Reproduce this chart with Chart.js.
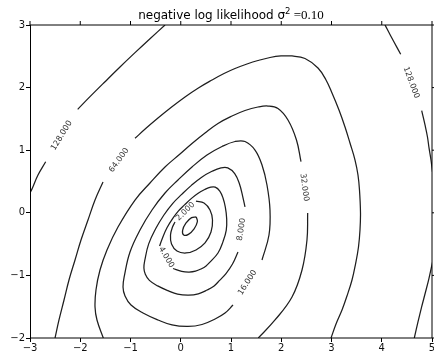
<!DOCTYPE html>
<html>
<head>
<meta charset="utf-8">
<script src="https://cdn.jsdelivr.net/npm/chart.js@4/dist/chart.umd.min.js"></script>
<style>
  html, body { margin: 0; padding: 0; background: #fff; }
  canvas { display: block; }
</style>
</head>
<body>
<canvas id="chart" width="434" height="353"></canvas>
<script>
// Axis ranges and tick values
const xTicks = [-3, -2, -1, 0, 1, 2, 3, 4, 5];
const yTicks = [-2, -1, 0, 1, 2, 3];

// Contour levels of the negative log likelihood
const levels = [1, 2, 4, 8, 16, 32, 64, 128];

// Contour paths as [x, y] pairs; each path stops where a level label sits
const c1 = [[0.309,-0.067],[0.331,-0.142],[0.266,-0.257],[0.152,-0.345],[0.059,-0.355],[0.037,-0.280],[0.102,-0.165],[0.216,-0.077],[0.309,-0.067]];
const c2 = [[0.303,0.188],[0.463,0.157],[0.582,0.045],[0.632,-0.115],[0.602,-0.307],[0.483,-0.482],[0.303,-0.594],[0.104,-0.642],[-0.075,-0.610],[-0.184,-0.498],[-0.204,-0.355],[-0.164,-0.227],[-0.114,-0.147]];
const c4 = [[-0.154,-0.890],[0.019,-0.936],[0.166,-0.947],[0.294,-0.933],[0.413,-0.893],[0.504,-0.848],[0.576,-0.791],[0.741,-0.642],[0.841,-0.460],[0.906,-0.276],[0.914,-0.094],[0.887,0.089],[0.841,0.236],[0.777,0.347],[0.686,0.409],[0.596,0.409],[0.477,0.372],[0.339,0.310],[0.202,0.222],[0.075,0.126],[-0.045,0.030],[-0.162,-0.094],[-0.274,-0.240],[-0.363,-0.401],[-0.421,-0.530]];
const c8 = [[1.139,-0.626],[1.030,-0.818],[0.900,-0.970],[0.773,-1.080],[0.664,-1.168],[0.526,-1.233],[0.349,-1.294],[0.156,-1.315],[-0.063,-1.299],[-0.254,-1.244],[-0.459,-1.168],[-0.624,-1.080],[-0.705,-0.981],[-0.733,-0.882],[-0.713,-0.749],[-0.638,-0.497],[-0.500,-0.256],[-0.335,-0.035],[-0.158,0.152],[0.019,0.294],[0.212,0.438],[0.417,0.569],[0.622,0.663],[0.801,0.717],[0.936,0.717],[1.074,0.625],[1.169,0.460],[1.239,0.240],[1.279,0.093]];
const c16 = [[1.040,-1.473],[0.881,-1.601],[0.682,-1.696],[0.423,-1.784],[0.144,-1.816],[-0.174,-1.792],[-0.453,-1.712],[-0.751,-1.601],[-0.990,-1.473],[-1.109,-1.329],[-1.149,-1.185],[-1.119,-0.994],[-1.010,-0.626],[-0.811,-0.275],[-0.572,0.045],[-0.313,0.316],[-0.055,0.524],[0.224,0.732],[0.522,0.923],[0.821,1.059],[1.080,1.139],[1.279,1.139],[1.478,1.003],[1.617,0.764],[1.716,0.444],[1.776,0.045],[1.756,-0.355],[1.617,-0.754]];
const c32a = [[-1.541,-2.0],[-1.667,-1.712],[-1.706,-1.505],[-1.687,-1.233],[-1.607,-0.914],[-1.468,-0.594],[-1.249,-0.227],[-0.910,0.204],[-0.612,0.476],[-0.313,0.732],[-0.015,0.939],[0.224,1.107],[0.483,1.275],[0.741,1.427],[1.020,1.546],[1.279,1.634],[1.537,1.690],[1.736,1.706],[1.935,1.666],[2.134,1.482],[2.303,1.163],[2.393,0.816]];
const c32b = [[2.526,-0.003],[2.512,-0.435],[2.413,-0.914],[2.214,-1.345],[1.876,-1.712],[1.543,-2.0]];
const c64a = [[-2.502,-2.0],[-2.423,-1.712],[-2.323,-1.393],[-2.224,-1.073],[-2.104,-0.754],[-1.985,-0.435],[-1.846,-0.115],[-1.706,0.204],[-1.547,0.492]];
const c64b = [[-0.910,1.190],[-0.692,1.350],[-0.453,1.514],[-0.194,1.682],[0.085,1.850],[0.343,1.990],[0.622,2.121],[0.861,2.225],[1.080,2.305],[1.318,2.377],[1.537,2.433],[1.776,2.481],[1.995,2.505],[2.214,2.505],[2.473,2.465],[2.731,2.313],[2.891,2.121],[3.010,1.914],[3.149,1.642],[3.269,1.371],[3.368,1.115],[3.468,0.843],[3.527,0.604],[3.557,0.364],[3.577,-0.003],[3.567,-0.275],[3.537,-0.546],[3.478,-0.818],[3.408,-1.073],[3.308,-1.329],[3.209,-1.553],[3.090,-1.776],[2.990,-2.0]];
const c128a = [[-0.313,3.0],[-0.612,2.781],[-0.910,2.558],[-1.209,2.329],[-1.507,2.094],[-1.806,1.855],[-2.051,1.653]];
const c128b = [[-2.688,0.816],[-2.841,0.604],[-2.954,0.391],[-3.0,0.316]];
const c128c = [[4.065,3.0],[4.110,2.931],[4.244,2.728],[4.377,2.532]];
const c128d = [[4.795,1.631],[4.861,1.403],[4.910,1.211],[4.940,1.040],[4.980,0.843],[5.010,0.652]];
const c128e = [[5.020,-0.754],[4.940,-1.046],[4.871,-1.265],[4.795,-1.5],[4.721,-1.744],[4.648,-2.0]];

const contourPaths = [c1, c2, c4, c8, c16, c32a, c32b, c64a, c64b, c128a, c128b, c128c, c128d, c128e];

// Inline labels: [path ending at the gap, path resuming after it, level]
const labelGaps = [
  [c128a, c128b, levels[7]],
  [c128c, c128d, levels[7]],
  [c64a, c64b, levels[6]],
  [c32a, c32b, levels[5]],
  [c16, c16, levels[4]],
  [c8, c8, levels[3]],
  [c4, c4, levels[2]],
  [c2, c2, levels[1]]
];

const minus = v => String(v).replace('-', '\u2212');

// Level labels written along the contour, in the gap left for them
const contourLabelPlugin = {
  id: 'contourLabels',
  afterDatasetsDraw(chart) {
    const { ctx, scales: { x, y } } = chart;
    ctx.save();
    ctx.font = '8px "DejaVu Sans"';
    ctx.fillStyle = '#333';
    ctx.textAlign = 'center';
    ctx.textBaseline = 'middle';
    labelGaps.forEach(([from, to, level]) => {
      const a = from[from.length - 1], b = to[0];
      const ax = x.getPixelForValue(a[0]), ay = y.getPixelForValue(a[1]);
      const bx = x.getPixelForValue(b[0]), by = y.getPixelForValue(b[1]);
      let ang = Math.atan2(by - ay, bx - ax);
      if (ang > Math.PI / 2) ang -= Math.PI;
      if (ang <= -Math.PI / 2) ang += Math.PI;
      ctx.save();
      ctx.translate((ax + bx) / 2, (ay + by) / 2);
      ctx.rotate(ang);
      ctx.fillText(level.toFixed(3), 0, 0);
      ctx.restore();
    });
    ctx.restore();
  }
};

// Axes frame plus mirrored ticks on the top and right edges
const framePlugin = {
  id: 'frame',
  afterDraw(chart) {
    const { ctx, chartArea: { left, right, top, bottom }, scales: { x, y } } = chart;
    ctx.save();
    ctx.strokeStyle = '#000';
    ctx.lineWidth = 1;
    ctx.beginPath();
    ctx.moveTo(left + 0.5, top); ctx.lineTo(left + 0.5, bottom);
    ctx.moveTo(left, top); ctx.lineTo(right, top);
    ctx.moveTo(left, bottom); ctx.lineTo(right, bottom);
    ctx.moveTo(right, top); ctx.lineTo(right, bottom);
    xTicks.forEach(v => {
      const px = x.getPixelForValue(v);
      ctx.moveTo(px, top); ctx.lineTo(px, top - 4);
    });
    yTicks.forEach(v => {
      const py = y.getPixelForValue(v);
      ctx.moveTo(right, py); ctx.lineTo(right + 4, py);
    });
    ctx.stroke();
    ctx.restore();
  }
};

// Title with a superscript and a serif value part
const titlePlugin = {
  id: 'sigmaTitle',
  afterDraw(chart) {
    const { ctx, chartArea: { left, right } } = chart;
    const parts = [
      { t: 'negative log likelihood ', f: '12px "DejaVu Sans"', dy: 0 },
      { t: '\u03c3', f: '12px "DejaVu Sans"', dy: 0 },
      { t: '2', f: '8.5px "DejaVu Sans"', dy: -5 },
      { t: ' =0.10', f: '13px "Liberation Serif"', dy: 0 }
    ];
    ctx.save();
    ctx.fillStyle = '#000';
    ctx.textBaseline = 'alphabetic';
    ctx.textAlign = 'left';
    let total = 0;
    parts.forEach(p => { ctx.font = p.f; p.w = ctx.measureText(p.t).width; total += p.w; });
    let cx = (left + right) / 2 - total / 2;
    const base = 18.5;
    parts.forEach(p => {
      ctx.font = p.f;
      ctx.fillText(p.t, cx, base + p.dy);
      cx += p.w;
    });
    ctx.restore();
  }
};

new Chart(document.getElementById('chart'), {
  type: 'scatter',
  data: {
    datasets: contourPaths.map(path => ({
      data: path.map(([x, y]) => ({ x, y })),
      showLine: true,
      pointRadius: 0,
      pointHoverRadius: 0,
      borderColor: '#1e1e1e',
      borderWidth: 1.25,
      tension: 0.4,
      fill: false
    }))
  },
  options: {
    responsive: false,
    animation: false,
    devicePixelRatio: 1,
    layout: { padding: { top: 25, right: 2, left: 0, bottom: 0 } },
    elements: { line: { capBezierPoints: false } },
    plugins: { legend: { display: false }, tooltip: { enabled: false }, title: { display: false } },
    scales: {
      x: {
        type: 'linear',
        min: xTicks[0],
        max: xTicks[xTicks.length - 1],
        afterBuildTicks: s => { s.ticks = xTicks.map(v => ({ value: v })); },
        afterFit: s => { s.height = 15; s.paddingLeft = 0; s.paddingRight = 0; },
        border: { display: false },
        grid: { drawOnChartArea: false, drawTicks: true, tickLength: 4, tickColor: '#000' },
        ticks: {
          autoSkip: false, maxRotation: 0, padding: 0, color: '#111',
          font: { family: 'DejaVu Sans', size: 10 },
          callback: v => minus(v)
        }
      },
      y: {
        type: 'linear',
        min: yTicks[0],
        max: yTicks[yTicks.length - 1],
        afterBuildTicks: s => { s.ticks = yTicks.map(v => ({ value: v })); },
        afterFit: s => { s.width = 30; s.paddingTop = 0; s.paddingBottom = 0; },
        border: { display: false },
        grid: { drawOnChartArea: false, drawTicks: true, tickLength: 4, tickColor: '#000' },
        ticks: {
          autoSkip: false, padding: 1, color: '#111',
          font: { family: 'DejaVu Sans', size: 10 },
          callback: v => minus(v)
        }
      }
    }
  },
  plugins: [contourLabelPlugin, framePlugin, titlePlugin]
});
</script>
</body>
</html>
